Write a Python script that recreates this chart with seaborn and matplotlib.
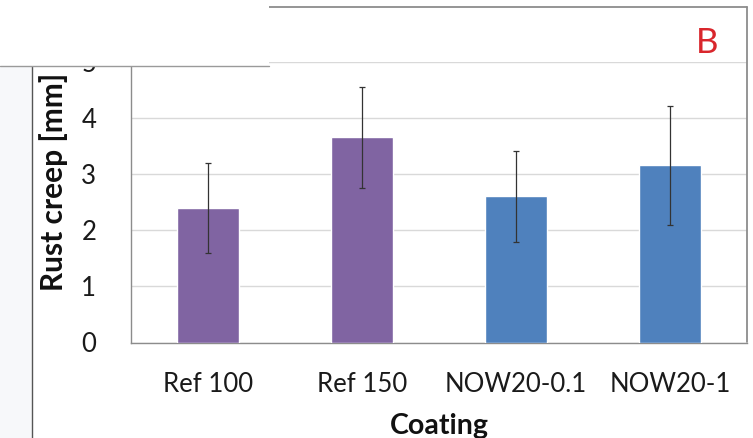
import matplotlib
matplotlib.use('Agg')
import matplotlib.pyplot as plt
import seaborn as sns
from matplotlib.patches import Rectangle
from matplotlib.lines import Line2D
from matplotlib.ticker import MultipleLocator, FixedLocator

coatings = ['Ref 100', 'Ref 150', 'NOW20-0.1', 'NOW20-1']
rust_creep = [2.40, 3.66, 2.61, 3.16]
rust_err = [0.80, 0.90, 0.81, 1.06]
bar_colors = ['#8064A2', '#8064A2', '#4F81BD', '#4F81BD']

W, H = 753, 438
sns.set_style('white')
plt.rcParams['font.family'] = ['Lato', 'DejaVu Sans']

fig = plt.figure(figsize=(W / 100, H / 100), dpi=100)
fig.patch.set_facecolor('white')

def fx(px):
    return px / W

def fy(py):
    return 1 - py / H

# plot area (pixel box from reference)
left, right, top, bottom = 131, 747, 62, 342.5
ax = fig.add_axes([fx(left), fy(bottom), fx(right - left), (bottom - top) / H])

sns.barplot(x=coatings, y=rust_creep, hue=coatings, palette=bar_colors,
            legend=False, width=0.4, saturation=1, ax=ax, zorder=3)
ax.errorbar(range(len(coatings)), rust_creep, yerr=rust_err, fmt='none',
            ecolor='#333333', elinewidth=0.9, capsize=2, capthick=0.9, zorder=4)

ax.set_ylim(0, 5)
ax.set_xlim(-0.5, 3.5)
ax.yaxis.set_major_locator(MultipleLocator(1))
ax.yaxis.set_minor_locator(MultipleLocator(0.5))
ax.xaxis.set_minor_locator(FixedLocator([-0.5, 0.5, 1.5, 2.5, 3.5]))
ax.grid(axis='y', color='#d9d9d9', linewidth=1, zorder=0)
ax.set_axisbelow(True)

for s in ['top', 'right']:
    ax.spines[s].set_visible(False)
for s in ['left', 'bottom']:
    ax.spines[s].set_color('#8c8c8c')
    ax.spines[s].set_linewidth(1)

ax.tick_params(axis='x', which='major', length=0, labelsize=18.5, pad=21, labelcolor='#1a1a1a')
ax.tick_params(axis='x', which='minor', length=9, width=1, color='#8c8c8c', direction='out')
ax.tick_params(axis='y', which='major', length=0, labelsize=18.5, pad=25, labelcolor='#1a1a1a')
ax.tick_params(axis='y', which='minor', length=7, width=1, color='#8c8c8c', direction='in')
ax.set_xlabel('')
ax.set_ylabel('')

fig.text(fx(439), fy(434), 'Coating', ha='center', va='baseline',
         fontsize=20.5, fontweight='bold', color='#111111')
fig.text(fx(63), fy(182), 'Rust creep [mm]', ha='center', va='baseline',
         rotation=90, rotation_mode='anchor', fontsize=21.5, fontweight='bold', color='#111111')
fig.text(fx(707), fy(53), 'B', ha='center', va='baseline',
         fontsize=25, color='#d9262c')

# chart area frame and light margin
fig.add_artist(Rectangle((0, 0), fx(32), fy(66), transform=fig.transFigure,
                         facecolor='#f7f8fa', edgecolor='none', zorder=-1))
fig.add_artist(Line2D([fx(32), fx(32)], [0, fy(66)], transform=fig.transFigure,
                      color='#555555', linewidth=1))
fig.add_artist(Line2D([fx(269), fx(747)], [fy(7), fy(7)], transform=fig.transFigure,
                      color='#8c8c8c', linewidth=1.3))
fig.add_artist(Line2D([fx(747), fx(747)], [fy(7), fy(342)], transform=fig.transFigure,
                      color='#8c8c8c', linewidth=1.3))

# white overlay box at top-left
fig.add_artist(Rectangle((0, fy(66)), fx(269), 66 / H, transform=fig.transFigure,
                         facecolor='white', edgecolor='none', zorder=10))
fig.add_artist(Line2D([0, fx(269)], [fy(66), fy(66)], transform=fig.transFigure,
                      color='#9a9a9a', linewidth=1, zorder=11))

fig.savefig('out.png', dpi=100)
